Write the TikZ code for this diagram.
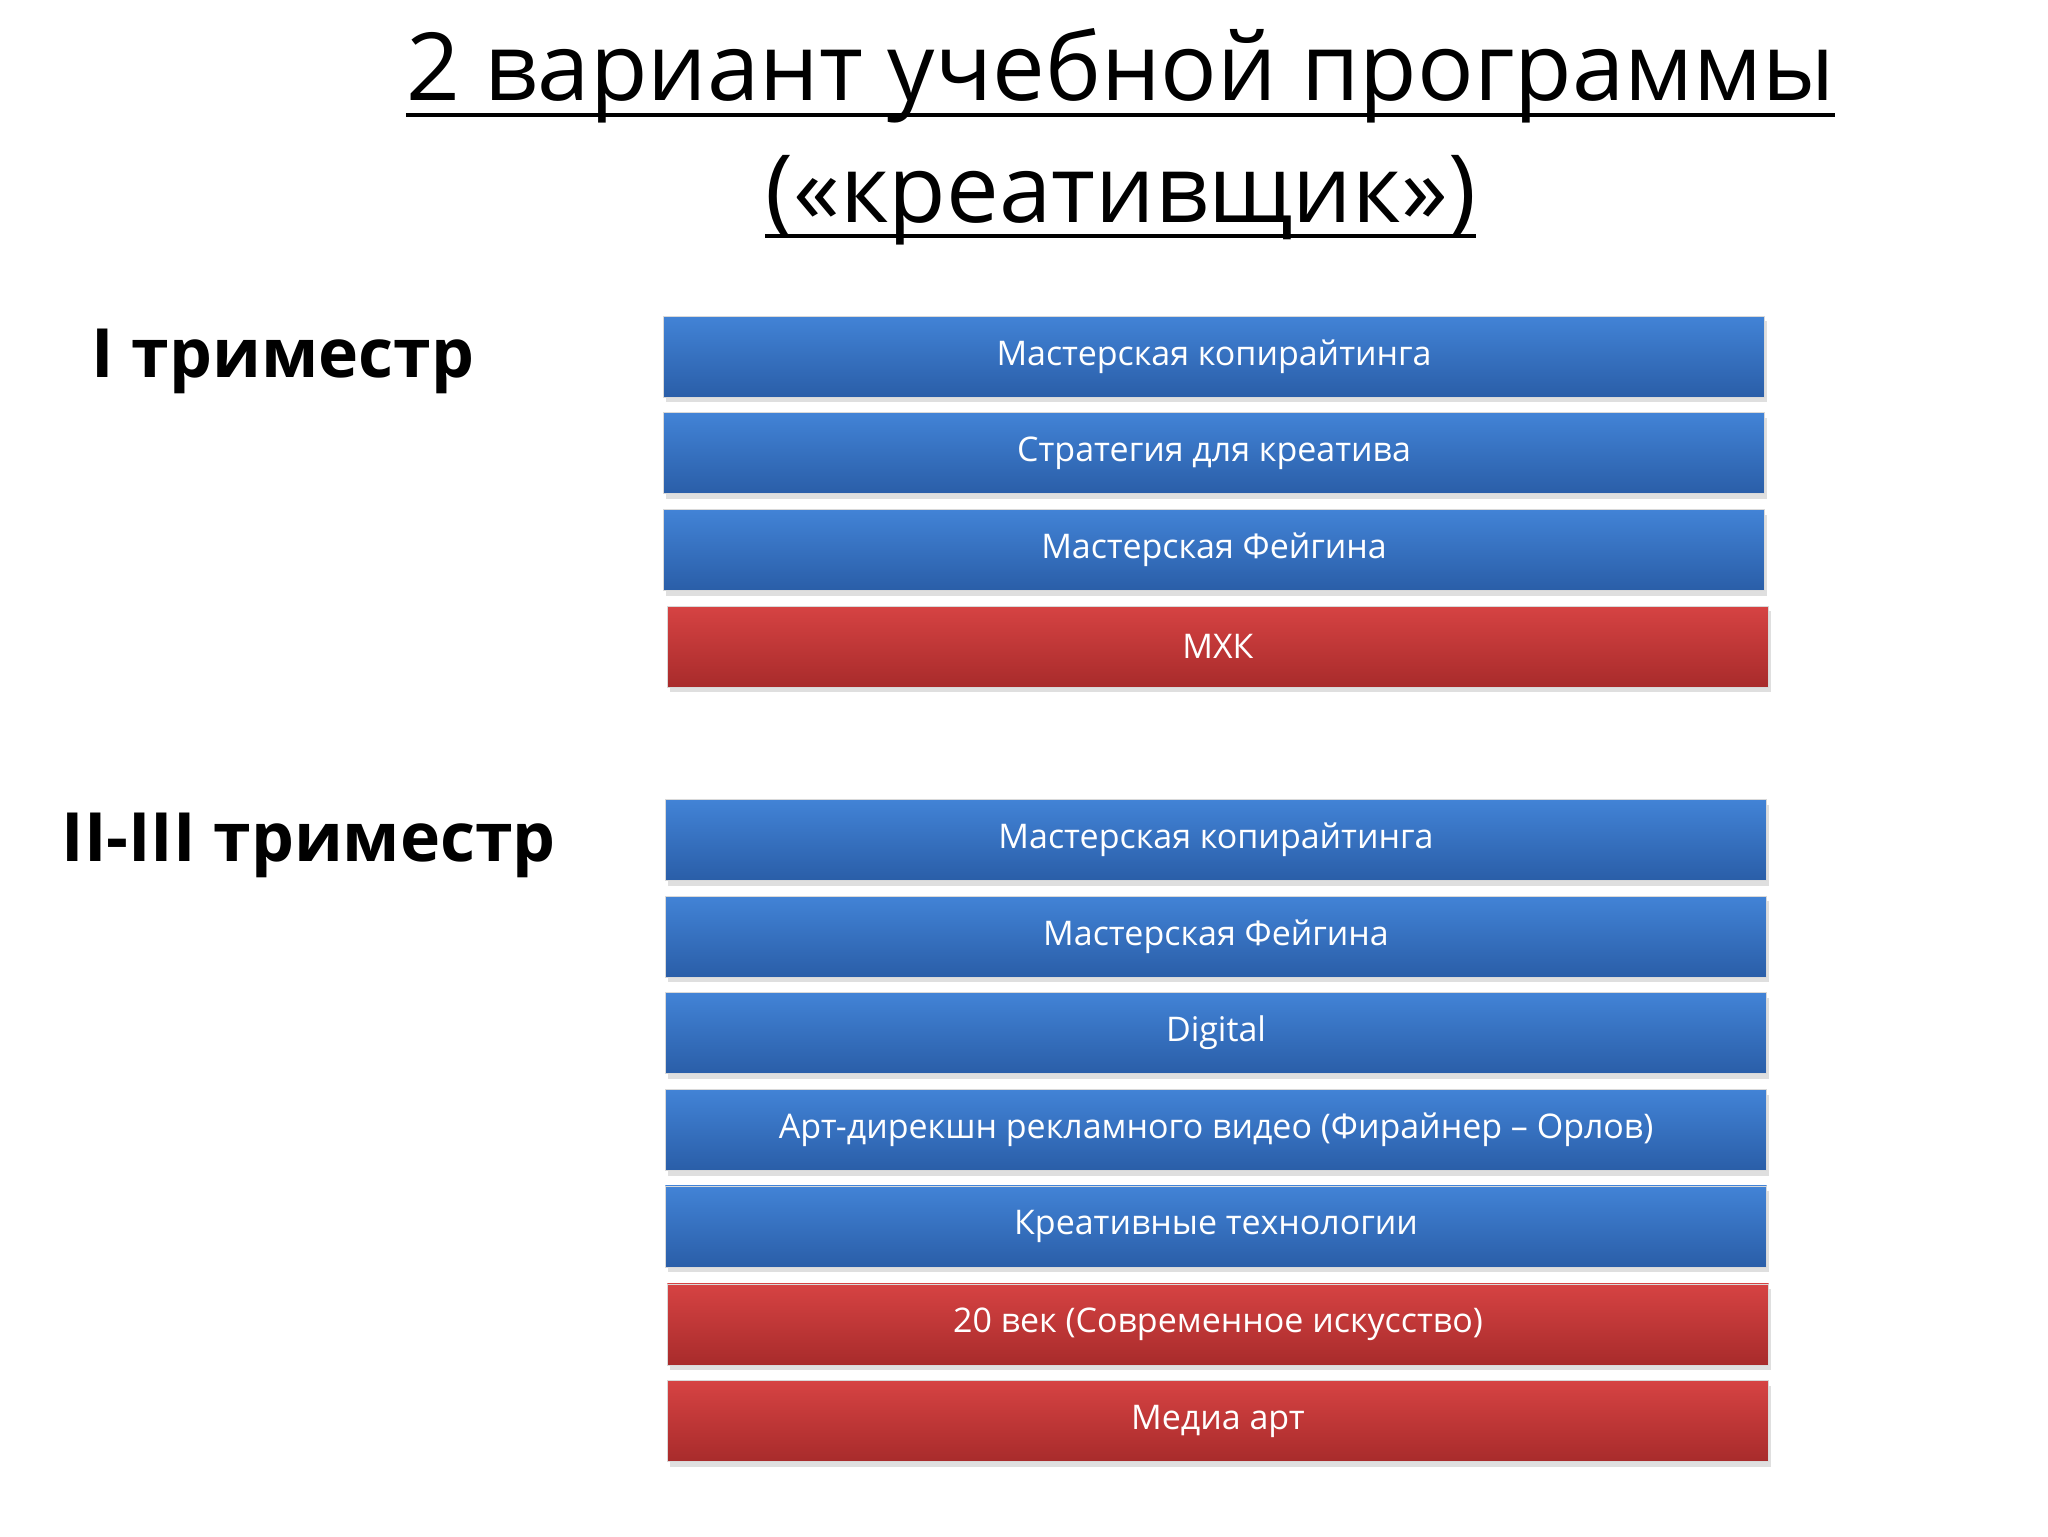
\documentclass[tikz,border=0pt]{standalone}
\usepackage{fontspec}
\setmainfont{Open Sans}
\usetikzlibrary{shadows}
\definecolor{btop}{HTML}{4283D6}
\definecolor{bbot}{HTML}{2A5EA8}
\definecolor{rtop}{HTML}{D64343}
\definecolor{rbot}{HTML}{A82B2B}
\tikzset{
 bar/.style={minimum height=62pt,inner sep=0pt,text=white,font=\fontsize{26}{30}\selectfont,draw=white!70!gray,line width=0.5pt,drop shadow={shadow xshift=2pt,shadow yshift=-4pt,opacity=0.25}},
 bluebar/.style={bar,top color=btop,bottom color=bbot,minimum width=843pt},
 redbar/.style={bar,top color=rtop,bottom color=rbot,minimum width=843pt},
 lab/.style={font=\bfseries\fontsize{52}{60}\selectfont,anchor=west,inner sep=0pt},
 ttl/.style={font=\fontsize{72}{80}\selectfont,inner sep=0pt}
}
\begin{document}
\begin{tikzpicture}[x=1pt,y=-1pt]
\useasboundingbox[fill=white] (0,0) rectangle (1568,1176);
\node[ttl,anchor=base] (t1) at (858,77) {2 вариант учебной программы};
\node[ttl,anchor=base] (t2) at (858,170) {(«креативщик»)};
\draw[line width=3pt] ([yshift=-11pt]t1.base west) -- ([yshift=-11pt]t1.base east);
\draw[line width=3pt] ([yshift=-11pt]t2.base west) -- ([yshift=-11pt]t2.base east);
\node[lab] (l1) at (70,277) {I триместр};
\node[lab] (l2) at (47,647) {II-III триместр};
\node[bluebar] (a1) at (929.5,273) {Мастерская копирайтинга};
\node[bluebar] (a2) at (929.5,347) {Стратегия для креатива};
\node[bluebar] (a3) at (929.5,421) {Мастерская Фейгина};
\node[redbar] (a4) at (932.5,495) {МХК};
\node[bluebar] (b1) at (931,643) {Мастерская копирайтинга};
\node[bluebar] (b2) at (931,717) {Мастерская Фейгина};
\node[bluebar] (b3) at (931,791) {Digital};
\node[bluebar] (b4) at (931,865) {Арт-дирекшн рекламного видео (Фирайнер – Орлов)};
\node[bluebar] (b5) at (931,939) {Креативные технологии};
\node[redbar] (b6) at (932.5,1014) {20 век (Современное искусство)};
\node[redbar] (b7) at (932.5,1088) {Медиа арт};
\end{tikzpicture}
\end{document}
